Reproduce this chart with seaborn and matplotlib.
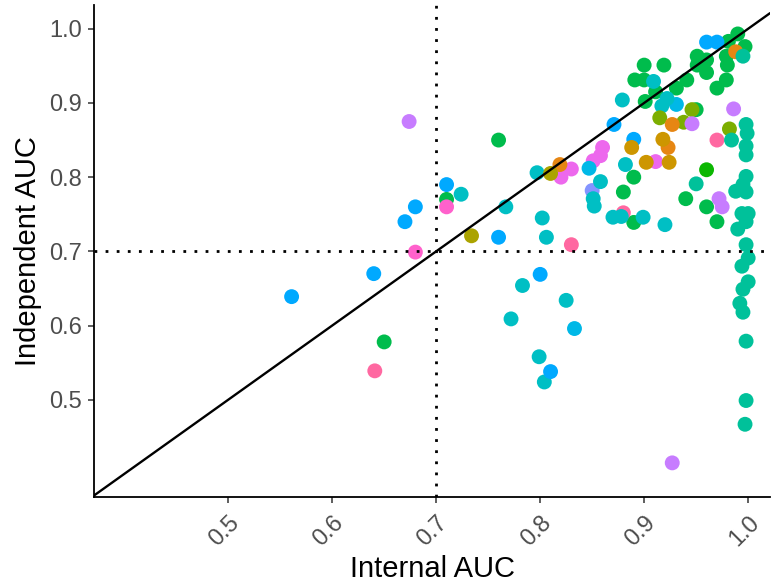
import numpy as np
import pandas as pd
import seaborn as sns
import matplotlib.pyplot as plt

# ggplot-style hue palette, 16 groups (green nudged toward the reference)
hue_16 = ["#F8766D", "#E68613", "#CD9600", "#ABA300", "#7CAE00", "#0CB702",
          "#00BC4C", "#00C19A", "#00BFC4", "#00B8E7", "#00A9FF", "#8494FF",
          "#C77CFF", "#ED68ED", "#FF61CC", "#FF68A1"]
group_names = ["G%02d" % (i + 1) for i in range(16)]

# points, listed group by group (this is also the drawing order)
internal_auc = [
    # G07 green
    0.650, 0.710, 0.760, 0.890, 0.880, 0.890, 0.940, 0.960, 0.970,
    0.990, 0.981, 0.997, 0.951, 0.960, 0.979, 0.980, 0.941, 0.960, 0.979,
    0.970, 0.951, 0.900, 0.919, 0.891, 0.900, 0.911, 0.901, 0.931, 0.950,
    # G06 bright green
    0.960,
    # G16 pink-red
    0.641, 0.830, 0.970, 0.880,
    # G12 lavender
    0.850,
    # G14 magenta
    0.820, 0.830, 0.860, 0.858, 0.851, 0.911,
    # G10 sky
    0.847, 0.833, 0.931,
    # G09 cyan
    0.724, 0.767, 0.797, 0.802, 0.806, 0.783, 0.825, 0.772, 0.799, 0.804,
    0.851, 0.852, 0.858, 0.882, 0.870, 0.878, 0.899, 0.920, 0.909, 0.879,
    0.922, 0.917,
    # G11 blue
    0.561, 0.640, 0.670, 0.680, 0.710, 0.760, 0.800, 0.810, 0.871, 0.890,
    0.960, 0.970,
    # G05 olive green
    0.946, 0.915, 0.938, 0.982,
    # G02 orange
    0.819, 0.927, 0.923, 0.988,
    # G08 teal
    0.998, 0.999, 0.998, 0.998, 0.998, 0.995, 0.988, 0.998, 0.994, 1.000,
    0.998, 0.990, 0.998, 1.000, 0.994, 1.000, 0.995, 0.992, 0.995, 0.998,
    0.998, 0.997, 0.995, 0.984, 0.950,
    # G04 olive
    0.734, 0.810,
    # G03 gold
    0.888, 0.918, 0.902, 0.924,
    # G13 purple
    0.674, 0.946, 0.986, 0.972, 0.975, 0.927,
    # G15 hot pink
    0.680, 0.710,
]
independent_auc = [
    0.578, 0.770, 0.850, 0.800, 0.780, 0.739, 0.771, 0.760, 0.740,
    0.993, 0.983, 0.976, 0.963, 0.958, 0.963, 0.951, 0.931, 0.941, 0.931,
    0.920, 0.951, 0.951, 0.951, 0.931, 0.931, 0.915, 0.902, 0.920, 0.891,
    0.810,
    0.539, 0.709, 0.850, 0.752,
    0.782,
    0.800, 0.811, 0.840, 0.829, 0.822, 0.821,
    0.812, 0.596, 0.898,
    0.777, 0.760, 0.806, 0.745, 0.719, 0.654, 0.634, 0.609, 0.558, 0.524,
    0.771, 0.761, 0.794, 0.817, 0.746, 0.747, 0.746, 0.736, 0.929, 0.904,
    0.906, 0.896,
    0.639, 0.670, 0.740, 0.760, 0.790, 0.719, 0.669, 0.538, 0.871, 0.851,
    0.982, 0.982,
    0.891, 0.880, 0.874, 0.865,
    0.817, 0.871, 0.840, 0.969,
    0.871, 0.859, 0.842, 0.830, 0.801, 0.790, 0.781, 0.780, 0.751, 0.751,
    0.740, 0.730, 0.709, 0.691, 0.680, 0.659, 0.649, 0.630, 0.618, 0.579,
    0.499, 0.467, 0.963, 0.850, 0.791,
    0.721, 0.805,
    0.840, 0.851, 0.820, 0.820,
    0.875, 0.872, 0.892, 0.771, 0.760, 0.415,
    0.699, 0.760,
]
group_counts = [("G07", 29), ("G06", 1), ("G16", 4), ("G12", 1), ("G14", 6),
                ("G10", 3), ("G09", 22), ("G11", 12), ("G05", 4), ("G02", 4),
                ("G08", 25), ("G04", 2), ("G03", 4), ("G13", 6), ("G15", 2)]
model_group = [g for g, n in group_counts for _ in range(n)]

df = pd.DataFrame({"internal": internal_auc,
                   "independent": independent_auc,
                   "group": model_group})

sns.set_theme(style="ticks")
plt.rcParams["font.family"] = ["Liberation Sans", "DejaVu Sans"]

fig = plt.figure(figsize=(7.72, 5.84), dpi=100)
ax = fig.add_axes([94 / 772, 1 - 497 / 584, 676 / 772, 492 / 584])

sns.scatterplot(data=df, x="internal", y="independent", hue="group",
                palette=dict(zip(group_names, hue_16)), s=115, linewidth=0,
                alpha=1, legend=False, ax=ax, zorder=2)

ax.axline((0.5, 0.5), slope=1, color="black", linewidth=1.7, zorder=3)
dots = dict(color="black", linewidth=2, linestyle=(0, (1, 3)),
            dash_capstyle="butt", zorder=3)
ax.axvline(0.7, **dots)
ax.axhline(0.7, **dots)

ax.set_xlim(0.371, 1.021)
ax.set_ylim(0.369, 1.032)
ticks = [0.5, 0.6, 0.7, 0.8, 0.9, 1.0]
ax.set_xticks(ticks)
ax.set_yticks(ticks)
ax.set_xticklabels(["%.1f" % t for t in ticks], rotation=45, ha="right",
                   va="top", rotation_mode="anchor")
ax.set_yticklabels(["%.1f" % t for t in ticks])
ax.tick_params(axis="both", length=4.5, width=1.1, color="#333333",
               labelcolor="#4D4D4D", labelsize=17)
ax.tick_params(axis="x", pad=6)
ax.tick_params(axis="y", pad=4)

ax.set_xlabel("Internal AUC", fontsize=21, color="black", labelpad=3)
ax.set_ylabel("Independent AUC", fontsize=21, color="black", labelpad=5)

sns.despine(ax=ax)
for side in ["left", "bottom"]:
    ax.spines[side].set_linewidth(1.3)
    ax.spines[side].set_color("black")

fig.savefig("out.png", dpi=100)
